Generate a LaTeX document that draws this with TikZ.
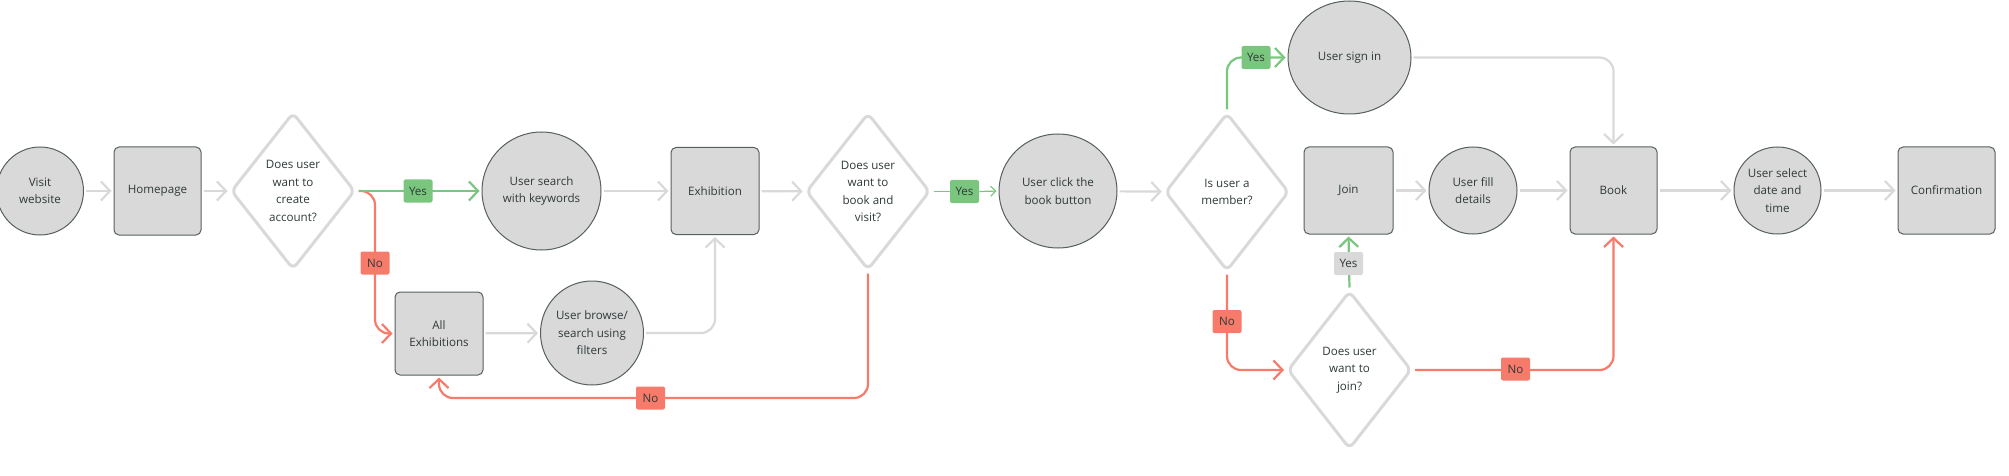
\documentclass[tikz,border=0pt]{standalone}
\usepackage{fontspec}
\setmainfont{Open Sans}
\usetikzlibrary{shapes.geometric,arrows.meta,calc}
\pgfdeclarelayer{bg}
\pgfsetlayers{bg,main}
\definecolor{nodefill}{HTML}{D9D9D9}
\definecolor{nodeborder}{HTML}{56605F}
\definecolor{lgray}{HTML}{D9D9D9}
\definecolor{okgreen}{HTML}{7BC67F}
\definecolor{nored}{HTML}{F77B6B}
\definecolor{txt}{HTML}{2F3939}
\tikzset{
  every node/.style={font=\fontsize{5.8}{8.8}\selectfont, text=txt, align=center},
  boxnode/.style={rectangle, draw=nodeborder, line width=0.5pt, fill=nodefill, rounded corners=2.5pt, inner sep=0pt},
  ovalnode/.style={ellipse, draw=nodeborder, line width=0.5pt, fill=nodefill, inner sep=0pt},
  decnode/.style={diamond, draw=lgray, line width=1.5pt, fill=white, rounded corners=3pt, inner sep=0pt, minimum width=62pt, minimum height=78.5pt},
  lab/.style={rectangle, rounded corners=1pt, inner sep=0pt, minimum width=14.5pt, minimum height=11.5pt},
  yeslab/.style={lab, fill=okgreen},
  nolab/.style={lab, fill=nored},
  graylab/.style={lab, fill=lgray},
  conn/.style={line width=1.1pt, rounded corners=7pt, shorten >=1pt, shorten <=1pt,
    -{Straight Barb[length=4.5pt,width=9.5pt]}},
  gline/.style={conn, draw=lgray},
  okline/.style={conn, draw=okgreen},
  noline/.style={conn, draw=nored},
  plainline/.style={line width=1.1pt, rounded corners=7pt, shorten <=1pt},
  thinok/.style={line width=0.6pt, draw=okgreen},
}
\begin{document}
\begin{tikzpicture}[x=0.5pt,y=-0.5pt]
\useasboundingbox (0,0) rectangle (2009,476);
% nodes
\node[ovalnode, minimum width=43.5pt, minimum height=44pt] (visit) at (40,191) {Visit\\website};
\node[boxnode, minimum width=43.5pt, minimum height=44pt] (home) at (157.5,191) {Homepage};
\node[decnode] (d1) at (293,191) {Does user\\want to\\create\\account?};
\node[ovalnode, minimum width=59.5pt, minimum height=59pt] (search) at (541.5,191) {User search\\with keywords};
\node[boxnode, minimum width=44pt, minimum height=41.5pt] (allex) at (439,333.5) {All\\Exhibitions};
\node[ovalnode, minimum width=51.5pt, minimum height=52pt] (browse) at (592,333) {User browse/\\search using\\filters};
\node[boxnode, minimum width=44pt, minimum height=43.5pt] (exhib) at (715,191) {Exhibition};
\node[decnode] (d2) at (868,191.5) {Does user\\want to\\book and\\visit?};
\node[ovalnode, minimum width=59pt, minimum height=57pt] (click) at (1058,191) {User click the\\book button};
\node[decnode, minimum height=79pt] (d3) at (1227,192) {Is user a\\member?};
\node[ovalnode, minimum width=61.5pt, minimum height=56.5pt] (signin) at (1349.5,57.5) {User sign in};
\node[boxnode, minimum width=44.5pt, minimum height=43.5pt] (join) at (1348.5,190.5) {Join};
\node[decnode, minimum height=79pt] (d4) at (1349.5,370) {Does user\\want to\\join?};
\node[ovalnode, minimum width=44pt, minimum height=43.5pt] (fill) at (1473,190.5) {User fill\\details};
\node[boxnode, minimum width=43.5pt, minimum height=43.5pt] (book) at (1613.5,190.5) {Book};
\node[ovalnode, minimum width=43.5pt, minimum height=43.5pt] (select) at (1777.5,190.5) {User select\\date and\\time};
\node[boxnode, minimum width=48.5pt, minimum height=43.5pt] (conf) at (1946.5,190.5) {Confirmation};
% labels
\node[yeslab] (yes1) at (418,191) {Yes};
\node[nolab] (no1) at (375,263) {No};
\node[nolab] (no2) at (650.5,398) {No};
\node[yeslab] (yes2) at (964.5,191.5) {Yes};
\node[yeslab] (yes3) at (1256,57.5) {Yes};
\node[nolab] (no3) at (1227,321.5) {No};
\node[graylab] (yes4) at (1348.5,263.5) {Yes};
\node[nolab] (no4) at (1515.5,369) {No};
% connectors
\begin{pgfonlayer}{bg}
\draw[gline] (visit) -- (home);
\draw[gline] (home) -- (d1);
\draw[noline] (d1.east) -| (no1.center) |- (allex.west);
\draw[okline] (d1.east) -- (search.west);
\draw[gline] (search) -- (exhib);
\draw[gline] (allex) -- (browse);
\draw[gline] (browse.east) -| (exhib.south);
\draw[gline] (exhib) -- (d2);
\draw[noline] (d2.south) |- (no2.center) -| (allex.south);
\draw[thinok, shorten <=1pt] (d2.east) -- (yes2.west);
\draw[thinok, shorten >=1pt, -{Straight Barb[length=2.5pt,width=5pt]}] (yes2.east) -- (click.west);
\draw[gline] (click) -- (d3);
\draw[okline] (d3.north) |- (signin.west);
\draw[noline] (d3.south) |- (d4.west);
\draw[okline] (d4.north) -- (join.south);
\draw[gline] (join) -- (fill);
\draw[gline] (fill) -- (book);
\draw[gline] (signin.east) -| (book.north);
\draw[noline] (d4.east) -| (book.south);
\draw[gline] (book) -- (select);
\draw[gline] (select) -- (conf);
\end{pgfonlayer}
\end{tikzpicture}
\end{document}
